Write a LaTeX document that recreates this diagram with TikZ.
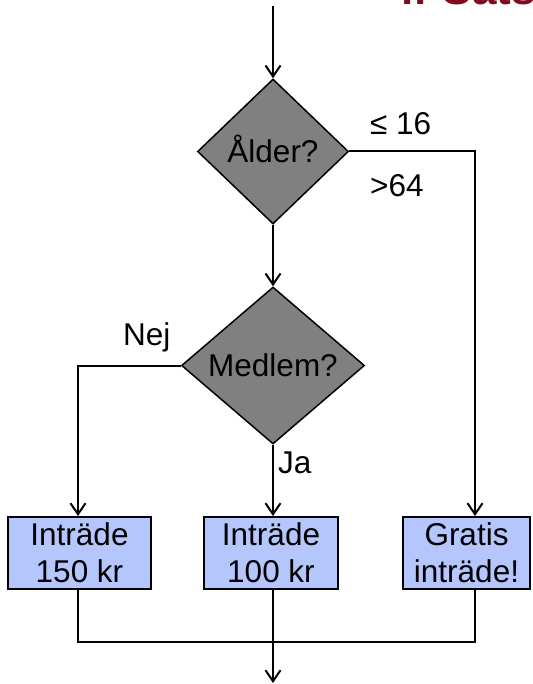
\documentclass[tikz,border=0pt]{standalone}
\usepackage{fontspec}
\setmainfont{Liberation Sans}
\usetikzlibrary{shapes.geometric,arrows.meta}

\definecolor{decisiongray}{RGB}{128,128,128}
\definecolor{actionblue}{RGB}{180,198,252}
\definecolor{titlered}{RGB}{128,10,30}

\tikzset{
  every node/.style={font=\fontsize{31.5}{37}\selectfont},
  decision/.style={diamond, draw=black, line width=1.5pt, fill=decisiongray,
    inner sep=0pt, text height=22.6pt, text depth=0pt},
  action/.style={rectangle, draw=black, line width=2pt, fill=actionblue,
    inner sep=0pt, minimum height=72pt, align=center},
  wire/.style={line width=2pt},
  flow/.style={wire, -{Straight Barb[length=11pt,width=15pt]}},
  branch/.style={anchor=base west, inner sep=0pt},
}

\begin{document}
\begin{tikzpicture}[x=1pt,y=-1pt]
  \useasboundingbox (0,0) rectangle (532,684);

  % heading, running off the top edge of the page
  \node[anchor=base west, inner sep=0pt, text=titlered,
        font=\fontsize{44}{50}\selectfont\bfseries] (title) at (401,4.5) {if-Satser};

  % decisions
  \node[decision, minimum width=151pt, minimum height=145pt] (age) at (273,151.5) {Ålder?};
  \node[decision, minimum width=183pt, minimum height=157pt] (member) at (273,365.5) {Medlem?};

  % outcomes
  \node[action, minimum width=143pt] (full) at (79.5,553) {Inträde\\150 kr};
  \node[action, minimum width=134pt] (reduced) at (271,553) {Inträde\\100 kr};
  \node[action, minimum width=127pt] (free) at (466.5,553) {Gratis\\inträde!};

  % routing points
  \coordinate (start) at (273,6);
  \coordinate (leftcol) at (78,365.5);
  \coordinate (rightcol) at (475,151.5);
  \coordinate (join) at (273,642);
  \coordinate (finish) at (273,683);

  % connectors
  \draw[flow] (start) -- (age.north);
  \draw[flow] (age.south) -- (member.north);
  \draw[flow] (age.east) -- (rightcol) -- (rightcol |- free.north);
  \draw[flow] (member.west) -- (leftcol) -- (leftcol |- full.north);
  \draw[flow] (member.south) -- (member.south |- reduced.north);

  \draw[wire] (leftcol |- full.south) -- (leftcol |- join) -- (rightcol |- join) -- (rightcol |- free.south);
  \draw[wire] (join |- reduced.south) -- (join);
  \draw[flow] (join) -- (finish);

  % branch labels
  \node[branch] (young) at (370,135) {≤ 16};
  \node[branch] (old) at (370,197) {>64};
  \node[branch] (no) at (123,345) {Nej};
  \node[branch] (yes) at (278,473) {Ja};
\end{tikzpicture}
\end{document}
